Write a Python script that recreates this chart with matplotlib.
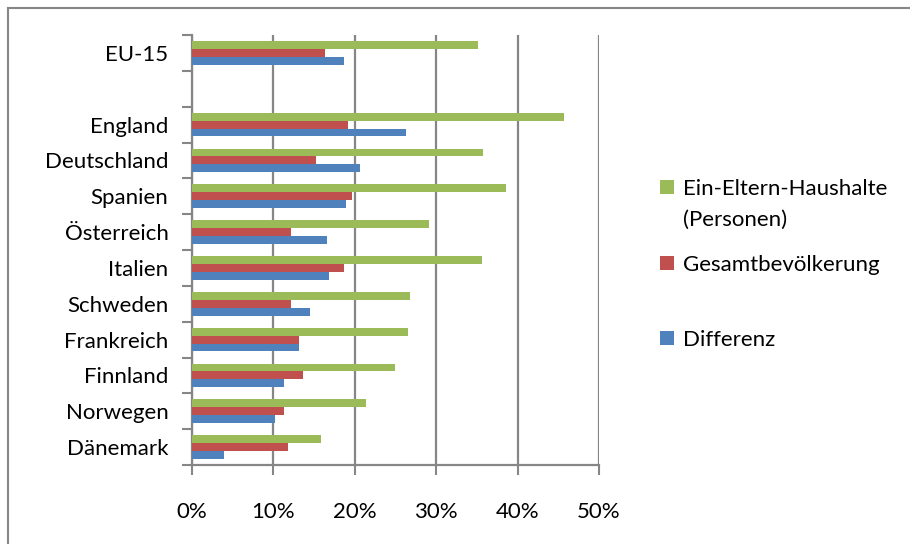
import matplotlib
matplotlib.use("Agg")
import matplotlib.pyplot as plt
from matplotlib.lines import Line2D
from matplotlib.patches import Rectangle
import numpy as np

# categories top -> bottom (empty slot between EU-15 and England)
categories = ["EU-15", "", "England", "Deutschland", "Spanien", "Österreich",
              "Italien", "Schweden", "Frankreich", "Finnland", "Norwegen", "Dänemark"]
ein_eltern = [35.1, np.nan, 45.7, 35.8, 38.6, 29.1, 35.6, 26.8, 26.5, 24.9, 21.4, 15.9]
gesamt = [16.4, np.nan, 19.2, 15.2, 19.6, 12.2, 18.7, 12.2, 13.1, 13.6, 11.3, 11.8]
differenz = [18.7, np.nan, 26.3, 20.6, 18.9, 16.6, 16.8, 14.5, 13.1, 11.3, 10.2, 3.9]

series_names = ["Ein-Eltern-Haushalte\n(Personen)", "Gesamtbevölkerung", "Differenz"]
series_colors = ["#9BBB59", "#C0504D", "#4F81BD"]
xticks = [0, 10, 20, 30, 40, 50]

plt.rcParams["font.family"] = ["Lato", "DejaVu Sans"]
grey = "#868686"
fs = 16

fig = plt.figure(figsize=(9.1, 5.44), dpi=100)
ax = fig.add_axes([192 / 910, 1 - 465 / 544, (599 - 192) / 910, (465 - 35) / 544])

n = len(categories)
ypos = np.arange(n)[::-1]  # top category gets highest y
h = 0.22
for k, vals in enumerate([ein_eltern, gesamt, differenz]):
    offs = (1 - k) * h
    ax.barh(ypos + offs, vals, height=h, color=series_colors[k],
            edgecolor="none", zorder=3)

ax.set_xlim(0, 50)
ax.set_ylim(-0.5, n - 0.5)
ax.set_xticks(xticks)
ax.set_xticklabels([f"{t}%" for t in xticks], fontsize=fs)
ax.set_yticks(np.arange(-0.5, n, 1.0))
ax.set_yticklabels([])
ax.set_yticks(ypos, minor=True)
ax.set_yticklabels(categories, minor=True, fontsize=fs)
ax.tick_params(axis="y", which="major", length=7, width=1.5, color=grey, direction="out")
ax.tick_params(axis="y", which="minor", length=0, pad=17)
ax.tick_params(axis="x", length=7, width=1.5, color=grey, direction="out", pad=20)

ax.grid(axis="x", color=grey, linewidth=1.6, zorder=0)
for s in ["top", "right"]:
    ax.spines[s].set_visible(False)
for s in ["left", "bottom"]:
    ax.spines[s].set_color(grey)
    ax.spines[s].set_linewidth(1.6)

# outer chart frame (left and top edges visible)
fig.add_artist(Line2D([8 / 910, 8 / 910], [0, 1 - 8 / 544], color=grey, lw=1.5,
                      transform=fig.transFigure))
fig.add_artist(Line2D([8 / 910, 1], [1 - 8 / 544, 1 - 8 / 544], color=grey, lw=1.5,
                      transform=fig.transFigure))

# legend, drawn manually to match spacing
leg_y = [187, 263, 338]
for name, col, y in zip(series_names, series_colors, leg_y):
    fig.add_artist(Rectangle((660 / 910, 1 - (y + 7) / 544), 14 / 910, 14 / 544,
                             facecolor=col, edgecolor="none", transform=fig.transFigure))
    fig.text(683 / 910, 1 - (y - 8) / 544, name, fontsize=fs, va="top", ha="left",
             linespacing=1.7)

fig.savefig("out.png", dpi=100)
